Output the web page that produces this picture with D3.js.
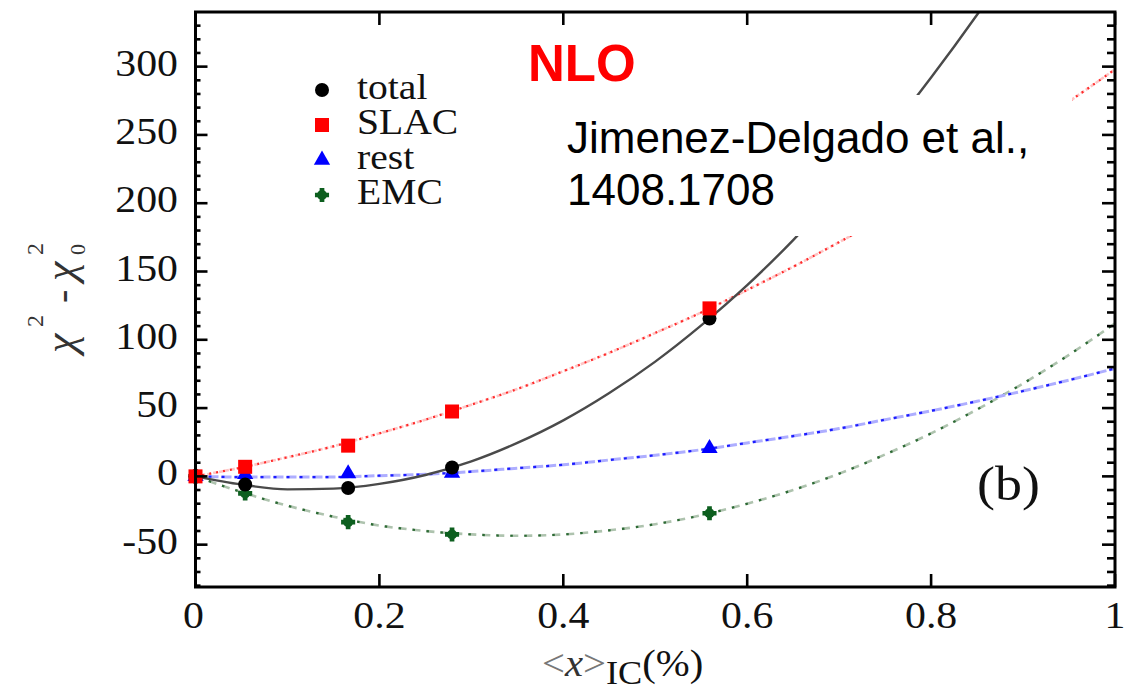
<!DOCTYPE html>
<html>
<head>
<meta charset="utf-8">
<script src="https://cdn.jsdelivr.net/npm/d3@7"></script>
<style>
  html, body { margin: 0; padding: 0; background: #fff; }
  svg { display: block; }
</style>
</head>
<body>
<svg id="chart" width="1140" height="694"></svg>
<script>
// ---------- data ----------
const pointX = [0, 0.054, 0.166, 0.279, 0.559];
const totalPts = [0, -6, -8.5, 6.5, 115.5];
const slacPts  = [0, 7, 22.5, 47.5, 123];
const restPts  = [0, 1.5, 2, 2.5, 20.5];
const emcPts   = [0, -12.5, -33.5, -42.5, -27];

const curveX = [0, 0.05, 0.1, 0.15, 0.2, 0.25, 0.3, 0.35, 0.4, 0.45, 0.5,
                0.55, 0.6, 0.65, 0.7, 0.75, 0.8, 0.85, 0.9, 0.95, 1.0];
const totalCurve = [0, -6, -9.5, -9, -5.5, 1, 11, 24.5, 41, 61, 84,
                    110.5, 140, 173, 209.5, 249, 292, 338, 387, 439, 495];
const slacCurve  = [0, 6.5, 14, 22, 31.5, 41.5, 52.5, 64, 77, 90.5, 105,
                    120, 136.5, 153.5, 171.5, 190, 210, 230.5, 252, 274.5, 298];
const restCurve  = [0, -0.5, -0.5, -0.5, 0.5, 1.5, 3.5, 6, 8.5, 12, 15.5,
                    19.5, 24.5, 29.5, 35, 41.5, 48, 55, 62.5, 70.5, 79];
const emcCurve   = [0, -11.5, -21.5, -29.5, -36, -40, -42.5, -43.5, -42.5, -39.5, -35,
                    -28.5, -20, -10, 2, 16, 31.5, 49, 68, 89, 112];

const xTicks = [0, 0.2, 0.4, 0.6, 0.8, 1];
const xTickLabels = ["0", "0.2", "0.4", "0.6", "0.8", "1"];
const yTicks = [-50, 0, 50, 100, 150, 200, 250, 300];
const yTickLabels = ["-50", "0", "50", "100", "150", "200", "250", "300"];
const yMinorTicks = d3.range(-80, 331, 10);

const legendNames = ["total", "SLAC", "rest", "EMC"];

// ---------- layout ----------
const svg = d3.select("#chart");
const L = 195.5, R = 1115, T = 12, B = 587;
const x = d3.scaleLinear().domain([0, 1]).range([L, R]);
const y = d3.scaleLinear().domain([-81, 340]).range([B, T]);
const serif = "'Liberation Serif', 'Times New Roman', serif";
const sans = "'Liberation Sans', Arial, sans-serif";
const SX = 1.1; // horizontal stretch of the serif labels

svg.append("rect").attr("width", 1140).attr("height", 694).attr("fill", "#fff");

svg.append("clipPath").attr("id", "plotclip")
  .append("rect").attr("x", L).attr("y", T).attr("width", R - L).attr("height", B - T);

const plot = svg.append("g").attr("clip-path", "url(#plotclip)");

const line = d3.line().x(d => x(d[0])).y(d => y(d[1])).curve(d3.curveMonotoneX);
const pairs = (xs, ys) => xs.map((v, i) => [v, ys[i]]);

// green EMC: dashed
plot.append("path").attr("d", line(pairs(curveX, emcCurve)))
  .attr("fill", "none").attr("stroke", "#aec3ae").attr("stroke-width", 2.6)
  .attr("stroke-dasharray", "8,6");
plot.append("path").attr("d", line(pairs(curveX, emcCurve)))
  .attr("fill", "none").attr("stroke", "#2c6a34").attr("stroke-width", 2.2)
  .attr("stroke-dasharray", "2.5,11.5");
// blue rest
plot.append("path").attr("d", line(pairs(curveX, restCurve)))
  .attr("fill", "none").attr("stroke", "#aeaeff").attr("stroke-width", 3)
  .attr("stroke-dasharray", "10,3");
plot.append("path").attr("d", line(pairs(curveX, restCurve)))
  .attr("fill", "none").attr("stroke", "#1c1cff").attr("stroke-width", 2.2)
  .attr("stroke-dasharray", "3,10");
// red SLAC: dotted
plot.append("path").attr("d", line(pairs(curveX, slacCurve)))
  .attr("fill", "none").attr("stroke", "#ffc4c4").attr("stroke-width", 2.6)
  .attr("stroke-dasharray", "4,2");
plot.append("path").attr("d", line(pairs(curveX, slacCurve)))
  .attr("fill", "none").attr("stroke", "#ff2a2a").attr("stroke-width", 2.2)
  .attr("stroke-dasharray", "2,5");
// black total
plot.append("path").attr("d", line(pairs(curveX, totalCurve)))
  .attr("fill", "none").attr("stroke", "#4a4a4a").attr("stroke-width", 2.4);

// white box behind the reference text (covers curves there)
svg.append("rect").attr("x", 558).attr("y", 95).attr("width", 514).attr("height", 141)
  .attr("fill", "#fff");

// ---------- markers ----------
function drawMarker(g, kind, cx, cy) {
  if (kind === "total") {
    g.append("circle").attr("cx", cx).attr("cy", cy).attr("r", 7).attr("fill", "#000");
  } else if (kind === "SLAC") {
    g.append("rect").attr("x", cx - 7).attr("y", cy - 7).attr("width", 14).attr("height", 14)
      .attr("fill", "#ff0000");
  } else if (kind === "rest") {
    g.append("path").attr("d", d3.symbol(d3.symbolTriangle, 115)())
      .attr("transform", `translate(${cx},${cy})`).attr("fill", "#0000ff");
  } else {
    g.append("path").attr("d", d3.symbol(d3.symbolCross, 110)())
      .attr("transform", `translate(${cx},${cy})`).attr("fill", "#0d5f1f");
    g.append("circle").attr("cx", cx).attr("cy", cy).attr("r", 5).attr("fill", "#0d5f1f");
  }
}
const marks = svg.append("g");
const seriesPts = { total: totalPts, SLAC: slacPts, rest: restPts, EMC: emcPts };
["EMC", "rest", "total", "SLAC"].forEach(k => {
  seriesPts[k].forEach((v, i) => drawMarker(marks, k, x(pointX[i]), y(v)));
});

// ---------- frame & ticks ----------
const axes = svg.append("g").attr("stroke", "#000");
axes.append("rect").attr("x", L).attr("y", T).attr("width", R - L).attr("height", B - T)
  .attr("fill", "none").attr("stroke-width", 3);
yMinorTicks.forEach(v => {
  const major = v % 50 === 0;
  axes.append("line").attr("x1", L).attr("x2", L + (major ? 12 : 5))
    .attr("y1", y(v)).attr("y2", y(v)).attr("stroke-width", 2.6);
  axes.append("line").attr("x1", R).attr("x2", R - (major ? 13 : 8))
    .attr("y1", y(v)).attr("y2", y(v)).attr("stroke-width", 2.6);
});
xTicks.forEach(v => {
  axes.append("line").attr("x1", x(v)).attr("x2", x(v)).attr("y1", B).attr("y2", B - 13)
    .attr("stroke-width", 2.6);
  axes.append("line").attr("x1", x(v)).attr("x2", x(v)).attr("y1", T).attr("y2", T + 13)
    .attr("stroke-width", 2.6);
});

// tick labels
const tl = svg.append("g").attr("font-family", serif).attr("font-size", 38).attr("fill", "#111");
yTicks.forEach((v, i) => {
  tl.append("text").attr("text-anchor", "end")
    .attr("transform", `translate(178,${y(v) + 9}) scale(${SX},1)`)
    .text(yTickLabels[i]);
});
xTicks.forEach((v, i) => {
  tl.append("text").attr("text-anchor", "middle")
    .attr("transform", `translate(${x(v) - (i === 0 ? 2 : 0)},628) scale(${SX},1)`)
    .text(xTickLabels[i]);
});

// x axis title  <x>_IC(%)
const xt = svg.append("text").attr("font-family", serif).attr("font-size", 37)
  .attr("transform", `translate(542,676) scale(${SX},1)`);
xt.append("tspan").attr("fill", "#777").text("<");
xt.append("tspan").attr("fill", "#333").attr("font-style", "italic").text("x");
xt.append("tspan").attr("fill", "#777").text(">");
xt.append("tspan").attr("fill", "#111").attr("font-size", 33).attr("dy", 8).text("IC");
xt.append("tspan").attr("fill", "#111").attr("dy", -8).text("(%)");

// y axis title  chi^2 - chi_0^2 (rotated)
const yt = svg.append("g").attr("transform", "translate(75,353) rotate(-90)")
  .attr("font-family", serif).attr("fill", "#333");
yt.append("text").attr("x", 0).attr("y", 0).attr("font-size", 44).attr("font-style", "italic").text("χ");
yt.append("text").attr("x", 26).attr("y", -32).attr("font-size", 24).text("2");
yt.append("text").attr("x", 50).attr("y", 0).attr("font-size", 40).text("-");
yt.append("text").attr("x", 72).attr("y", 0).attr("font-size", 44).attr("font-style", "italic").text("χ");
yt.append("text").attr("x", 98).attr("y", 10).attr("font-size", 22).text("0");
yt.append("text").attr("x", 98).attr("y", -32).attr("font-size", 24).text("2");

// legend
const lg = svg.append("g");
legendNames.forEach((name, i) => {
  const by = 99 + i * 35;
  drawMarker(lg, name, 322, by - 9);
  lg.append("text").attr("font-family", serif).attr("font-size", 33).attr("fill", "#111")
    .attr("transform", `translate(357,${by}) scale(1.2,1.06)`).text(name);
});

// annotations
svg.append("text").attr("x", 528).attr("y", 81).attr("font-family", sans)
  .attr("font-weight", "bold").attr("font-size", 51).attr("fill", "#ff0000").text("NLO");
svg.append("text").attr("x", 567).attr("y", 153).attr("font-family", sans)
  .attr("font-size", 44).attr("fill", "#000").text("Jimenez-Delgado et al.,");
svg.append("text").attr("x", 567).attr("y", 205).attr("font-family", sans)
  .attr("font-size", 44).attr("fill", "#000").text("1408.1708");
svg.append("text").attr("font-family", serif).attr("font-size", 49).attr("fill", "#111")
  .attr("transform", `translate(977,500) scale(${SX},1)`).text("(b)");
</script>
</body>
</html>
